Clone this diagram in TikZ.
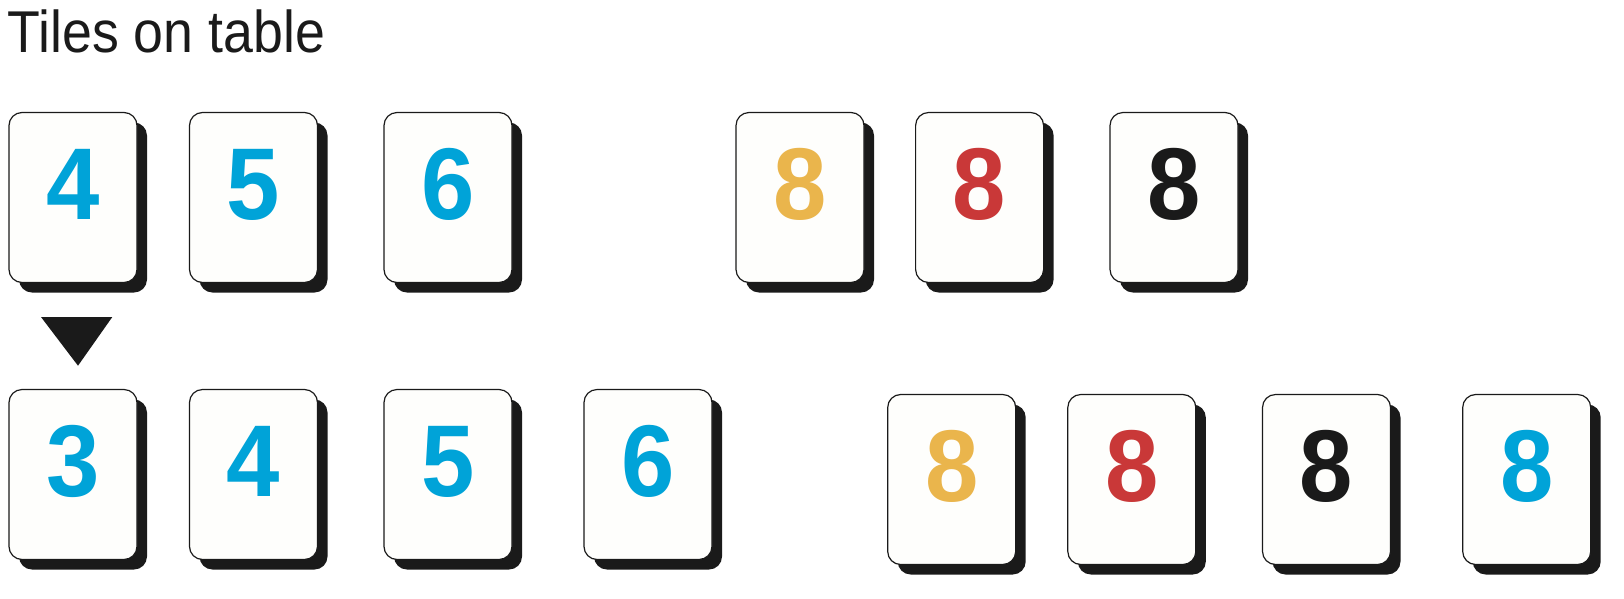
\documentclass[tikz,border=0pt]{standalone}
\usepackage{fontspec}
\setmainfont{Liberation Sans}
\usepackage{tikz}
\usetikzlibrary{shadows}

\definecolor{tblue}{HTML}{00A3D8}
\definecolor{tyellow}{HTML}{EAB54C}
\definecolor{tred}{HTML}{C93838}
\definecolor{tblack}{HTML}{1A1A1A}
\definecolor{tface}{HTML}{FEFEFC}

\tikzset{
  tile/.style={rectangle, draw=tblack, line width=1.2pt, fill=tface,
    rounded corners=13pt, minimum width=128pt, minimum height=170pt, inner sep=0pt,
    drop shadow={shadow xshift=10pt, shadow yshift=-10pt, fill=tblack, opacity=1}},
  digit/.style={text=#1, inner sep=0pt, xscale=0.94, font=\fontsize{102}{102}\selectfont\bfseries}
}

\begin{document}
\begin{tikzpicture}[x=1pt, y=-1pt]

\useasboundingbox (0,0) rectangle (1624,598);

\node (title) at (7.5,52.3) [anchor=base west, inner sep=0pt, text=tblack, xscale=0.91,
  font=\fontsize{59}{59}\selectfont] {Tiles on table};



% tiles on the table
\node (r4) at (73,197.5) [tile] {};
\node (r5) at (253.5,197.5) [tile] {};
\node (r6) at (448,197.5) [tile] {};

\node (g8y) at (800,197.5) [tile] {};
\node (g8r) at (979.6,197.5) [tile] {};
\node (g8k) at (1174,197.5) [tile] {};

\node at ([yshift=13pt]r4.center) [digit=tblue] {4};
\node at ([yshift=13pt]r5.center) [digit=tblue] {5};
\node at ([yshift=13pt]r6.center) [digit=tblue] {6};

\node at ([yshift=13pt]g8y.center) [digit=tyellow] {8};
\node at ([yshift=13pt]g8r.center) [digit=tred] {8};
\node at ([yshift=13pt]g8k.center) [digit=tblack] {8};



% marker
\fill [tblack] (41,317) -- (112.3,317) -- (78,365.7) -- cycle;



% after the move
\node (nr3) at (73,474.5) [tile] {};
\node (nr4) at (253.5,474.5) [tile] {};
\node (nr5) at (448,474.5) [tile] {};
\node (nr6) at (648,474.5) [tile] {};

\node (ng8y) at (951.7,479.5) [tile] {};
\node (ng8r) at (1131.8,479.5) [tile] {};
\node (ng8k) at (1326.5,479.5) [tile] {};
\node (ng8b) at (1526.7,479.5) [tile] {};

\node at ([yshift=13pt]nr3.center) [digit=tblue] {3};
\node at ([yshift=13pt]nr4.center) [digit=tblue] {4};
\node at ([yshift=13pt]nr5.center) [digit=tblue] {5};
\node at ([yshift=13pt]nr6.center) [digit=tblue] {6};

\node at ([yshift=13pt]ng8y.center) [digit=tyellow] {8};
\node at ([yshift=13pt]ng8r.center) [digit=tred] {8};
\node at ([yshift=13pt]ng8k.center) [digit=tblack] {8};
\node at ([yshift=13pt]ng8b.center) [digit=tblue] {8};

\end{tikzpicture}
\end{document}
